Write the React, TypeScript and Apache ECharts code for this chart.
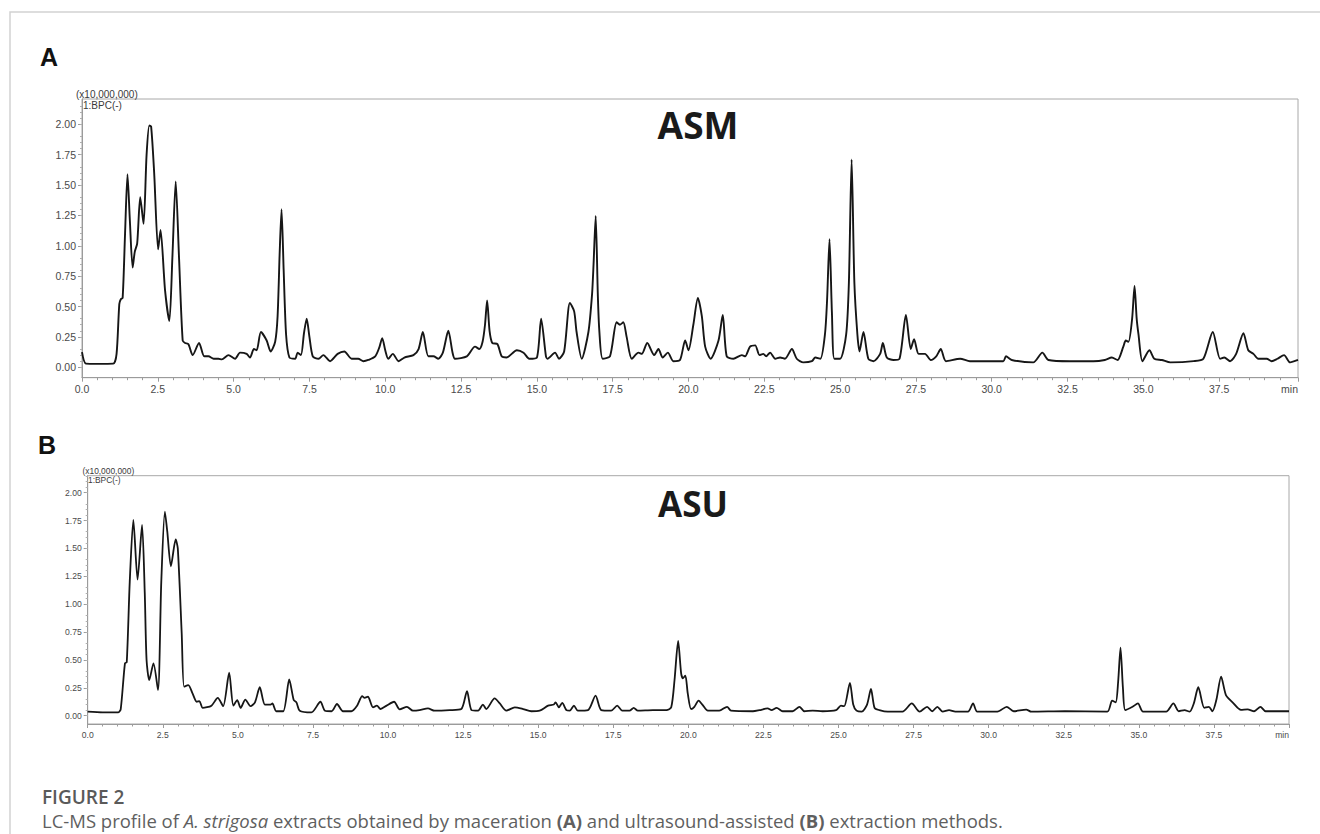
import React, { useEffect, useRef } from "react";
import * as echarts from "echarts";

// ---- tick labels ----
const xMajorTicks = [0, 2.5, 5, 7.5, 10, 12.5, 15, 17.5, 20, 22.5, 25, 27.5, 30, 32.5, 35, 37.5];
const yMajorTicks = [0, 0.25, 0.5, 0.75, 1, 1.25, 1.5, 1.75, 2];
const panelTitles = ["ASM", "ASU"];
const panelLetters = ["A", "B"];

// ---- ASM (maceration) base peak chromatogram: [time (min), intensity (x10,000,000)] ----
const asmProfile: [number, number][] = [
  [0, 0.125], [0.13, 0.03], [0.5, 0.028], [1.03, 0.03], [1.14, 0.11], [1.23, 0.52], [1.28, 0.56], [1.34, 0.57],
  [1.42, 1.1], [1.5, 1.59], [1.58, 1.2], [1.67, 0.82], [1.74, 0.95], [1.82, 1.02], [1.92, 1.4], [2.03, 1.18],
  [2.13, 1.75], [2.22, 1.99], [2.28, 1.98], [2.38, 1.6], [2.51, 0.97], [2.59, 1.13], [2.74, 0.63], [2.88, 0.38],
  [2.98, 0.9], [3.09, 1.53], [3.2, 0.9], [3.32, 0.22], [3.4, 0.2], [3.51, 0.19], [3.65, 0.1], [3.86, 0.2],
  [4.03, 0.09], [4.17, 0.09], [4.34, 0.07], [4.5, 0.07], [4.61, 0.065], [4.83, 0.1], [5.05, 0.07], [5.21, 0.12],
  [5.43, 0.11], [5.54, 0.08], [5.67, 0.15], [5.76, 0.14], [5.9, 0.29], [6.09, 0.22], [6.22, 0.13], [6.37, 0.21],
  [6.45, 0.42], [6.52, 0.95], [6.58, 1.3], [6.65, 0.8], [6.73, 0.27], [6.84, 0.08], [7.03, 0.07], [7.11, 0.12],
  [7.22, 0.1], [7.32, 0.28], [7.41, 0.4], [7.5, 0.25], [7.61, 0.09], [7.8, 0.07], [7.96, 0.1], [8.18, 0.05],
  [8.43, 0.11], [8.65, 0.13], [8.89, 0.07], [9.11, 0.07], [9.28, 0.05], [9.44, 0.06], [9.67, 0.09], [9.8, 0.16],
  [9.9, 0.24], [10.0, 0.14], [10.1, 0.07], [10.25, 0.11], [10.44, 0.05], [10.63, 0.08], [10.93, 0.1], [11.1, 0.15],
  [11.24, 0.29], [11.42, 0.09], [11.59, 0.09], [11.75, 0.07], [11.9, 0.12], [12.08, 0.3], [12.22, 0.12], [12.3, 0.07],
  [12.69, 0.09], [12.96, 0.17], [13.1, 0.15], [13.21, 0.21], [13.29, 0.35], [13.36, 0.55], [13.44, 0.3], [13.53, 0.2],
  [13.7, 0.19], [13.84, 0.09], [14.0, 0.08], [14.34, 0.14], [14.56, 0.12], [14.75, 0.07], [15.0, 0.08], [15.14, 0.4],
  [15.3, 0.09], [15.35, 0.07], [15.6, 0.12], [15.73, 0.07], [15.9, 0.13], [16.09, 0.53], [16.23, 0.46], [16.31, 0.29],
  [16.48, 0.07], [16.7, 0.29], [16.82, 0.6], [16.87, 0.85], [16.94, 1.245], [17.01, 0.6], [17.06, 0.3], [17.17, 0.07],
  [17.41, 0.09], [17.63, 0.37], [17.74, 0.35], [17.85, 0.37], [17.96, 0.25], [18.13, 0.07], [18.35, 0.12], [18.46, 0.11],
  [18.64, 0.2], [18.87, 0.1], [19.01, 0.15], [19.15, 0.08], [19.32, 0.12], [19.5, 0.05], [19.72, 0.06], [19.89, 0.22],
  [20.0, 0.14], [20.16, 0.35], [20.31, 0.57], [20.44, 0.42], [20.55, 0.17], [20.73, 0.07], [20.99, 0.22], [21.13, 0.43],
  [21.26, 0.09], [21.48, 0.07], [21.76, 0.1], [21.87, 0.09], [22.03, 0.17], [22.2, 0.18], [22.34, 0.1], [22.47, 0.11],
  [22.56, 0.09], [22.69, 0.12], [22.86, 0.07], [23.02, 0.08], [23.18, 0.07], [23.41, 0.15], [23.57, 0.07], [23.79, 0.04],
  [24.07, 0.05], [24.18, 0.08], [24.35, 0.07], [24.5, 0.27], [24.57, 0.55], [24.65, 1.055], [24.73, 0.45], [24.81, 0.07],
  [25.0, 0.07], [25.2, 0.27], [25.29, 0.7], [25.38, 1.71], [25.47, 0.7], [25.57, 0.27], [25.64, 0.13], [25.77, 0.29],
  [25.93, 0.07], [26.1, 0.05], [26.32, 0.11], [26.41, 0.2], [26.54, 0.08], [26.76, 0.06], [26.96, 0.07], [27.17, 0.43],
  [27.33, 0.15], [27.44, 0.23], [27.59, 0.11], [27.8, 0.11], [27.99, 0.06], [28.17, 0.09], [28.32, 0.15], [28.49, 0.05],
  [28.96, 0.07], [29.28, 0.05], [30.38, 0.05], [30.47, 0.09], [30.66, 0.06], [31.37, 0.04], [31.67, 0.12], [31.87, 0.06],
  [32.58, 0.05], [33.35, 0.05], [33.73, 0.06], [33.96, 0.08], [34.15, 0.06], [34.34, 0.17], [34.42, 0.22], [34.51, 0.21],
  [34.63, 0.4], [34.71, 0.67], [34.78, 0.4], [34.84, 0.27], [34.97, 0.05], [35.2, 0.14], [35.36, 0.07], [35.61, 0.06],
  [35.89, 0.04], [36.66, 0.05], [36.98, 0.07], [37.29, 0.29], [37.53, 0.07], [37.67, 0.08], [37.86, 0.05], [38.06, 0.11],
  [38.3, 0.28], [38.46, 0.14], [38.63, 0.11], [38.79, 0.07], [39.07, 0.07], [39.23, 0.05], [39.42, 0.07], [39.64, 0.1],
  [39.84, 0.04], [40.1, 0.06],
];

// ---- ASU (ultrasound-assisted) base peak chromatogram ----
const asuProfile: [number, number][] = [
  [0, 0.036], [0.5, 0.03], [1.02, 0.03], [1.1, 0.06], [1.24, 0.47], [1.3, 0.48], [1.4, 1.2], [1.52, 1.755],
  [1.66, 1.22], [1.81, 1.71], [1.9, 1.1], [1.96, 0.5], [2.05, 0.32], [2.19, 0.47], [2.34, 0.23], [2.45, 1.2],
  [2.57, 1.83], [2.65, 1.65], [2.77, 1.34], [2.93, 1.58], [3.0, 1.5], [3.13, 0.74], [3.21, 0.26], [3.35, 0.275],
  [3.49, 0.2], [3.63, 0.125], [3.72, 0.13], [3.83, 0.07], [4.12, 0.09], [4.33, 0.16], [4.51, 0.085], [4.71, 0.385],
  [4.85, 0.09], [4.98, 0.14], [5.09, 0.07], [5.25, 0.145], [5.42, 0.085], [5.57, 0.12], [5.73, 0.255], [5.9, 0.1],
  [6.09, 0.1], [6.15, 0.11], [6.28, 0.04], [6.51, 0.04], [6.71, 0.325], [6.86, 0.14], [6.95, 0.12], [7.06, 0.045],
  [7.45, 0.03], [7.75, 0.125], [7.9, 0.045], [8.12, 0.04], [8.3, 0.105], [8.5, 0.04], [8.78, 0.04], [8.97, 0.09],
  [9.14, 0.175], [9.22, 0.16], [9.33, 0.17], [9.5, 0.075], [9.63, 0.09], [9.75, 0.06], [9.95, 0.09], [10.2, 0.125],
  [10.39, 0.057], [10.63, 0.08], [10.83, 0.045], [11.05, 0.05], [11.33, 0.065], [11.55, 0.045], [12.05, 0.05], [12.44, 0.06],
  [12.63, 0.22], [12.78, 0.05], [13.0, 0.045], [13.16, 0.1], [13.27, 0.06], [13.55, 0.155], [13.72, 0.11], [13.94, 0.045],
  [14.22, 0.075], [14.5, 0.06], [14.77, 0.04], [15.05, 0.045], [15.33, 0.09], [15.52, 0.1], [15.58, 0.12], [15.69, 0.075],
  [15.8, 0.115], [15.94, 0.05], [16.05, 0.045], [16.19, 0.09], [16.32, 0.045], [16.66, 0.05], [16.91, 0.18], [17.1, 0.05],
  [17.43, 0.045], [17.63, 0.09], [17.8, 0.045], [18.04, 0.045], [18.18, 0.07], [18.32, 0.045], [18.82, 0.05], [19.27, 0.05],
  [19.43, 0.075], [19.54, 0.32], [19.66, 0.67], [19.76, 0.38], [19.82, 0.335], [19.9, 0.36], [19.98, 0.2], [20.09, 0.06],
  [20.2, 0.08], [20.34, 0.135], [20.48, 0.095], [20.65, 0.045], [21.03, 0.045], [21.29, 0.08], [21.42, 0.045], [22.15, 0.04],
  [22.37, 0.05], [22.64, 0.065], [22.77, 0.05], [22.94, 0.07], [23.14, 0.04], [23.47, 0.04], [23.7, 0.08], [23.86, 0.04],
  [24.14, 0.045], [24.47, 0.04], [24.92, 0.05], [25.08, 0.09], [25.19, 0.085], [25.38, 0.295], [25.49, 0.1], [25.6, 0.045],
  [25.77, 0.036], [25.95, 0.1], [26.08, 0.24], [26.2, 0.07], [26.36, 0.05], [26.64, 0.036], [27.13, 0.036], [27.44, 0.11],
  [27.7, 0.036], [27.95, 0.08], [28.12, 0.04], [28.29, 0.08], [28.47, 0.036], [28.68, 0.05], [28.89, 0.036], [29.31, 0.036],
  [29.48, 0.11], [29.62, 0.036], [30.29, 0.036], [30.6, 0.08], [30.83, 0.04], [31.25, 0.055], [31.42, 0.036], [32.54, 0.04],
  [33.95, 0.036], [34.11, 0.135], [34.23, 0.12], [34.31, 0.3], [34.39, 0.61], [34.47, 0.25], [34.55, 0.05], [34.79, 0.08],
  [34.97, 0.11], [35.14, 0.036], [35.91, 0.036], [36.15, 0.11], [36.33, 0.04], [36.52, 0.05], [36.69, 0.036], [36.83, 0.11],
  [36.98, 0.255], [37.18, 0.07], [37.33, 0.08], [37.45, 0.04], [37.58, 0.14], [37.74, 0.35], [37.9, 0.185], [38.12, 0.12],
  [38.4, 0.052], [38.62, 0.057], [38.84, 0.04], [39.05, 0.08], [39.22, 0.04], [40.0, 0.04],
];

const profiles = [asmProfile, asuProfile];

type Panel = {
  left: number; top: number; width: number; height: number;
  xMax: number; yMin: number; yMax: number;
  labelSize: number; noteSize: number; lineWidth: number;
};

const panels: Panel[] = [
  { left: 82, top: 99, width: 1216, height: 278.7, xMax: 40.1, yMin: -0.086, yMax: 2.208, labelSize: 10.5, noteSize: 10, lineWidth: 1.9 },
  { left: 87.7, top: 475.7, width: 1201.3, height: 248.3, xMax: 40, yMin: -0.0744, yMax: 2.152, labelSize: 8.6, noteSize: 8.4, lineWidth: 1.8 },
];

function steps(from: number, to: number, step: number, skipEvery: number): number[] {
  const out: number[] = [];
  const n = Math.round((to - from) / step);
  for (let i = 0; i <= n; i++) {
    if (i % skipEvery !== 0) out.push(+(from + i * step).toFixed(4));
  }
  return out;
}

const AXIS_GREY = "#9b9b9b";
const LABEL_GREY = "#4a4a4a";
const TICK_FONT = '"Liberation Sans", Arial, sans-serif';

function buildOption() {
  const grids: any[] = [];
  const xAxes: any[] = [];
  const yAxes: any[] = [];
  const series: any[] = [];

  panels.forEach((p, i) => {
    grids.push({
      left: p.left, top: p.top, width: p.width, height: p.height,
      show: true, borderColor: "#a8a8a8", borderWidth: 1, backgroundColor: "transparent", containLabel: false,
    });
    const xLabelVals = [...xMajorTicks, p.xMax];
    xAxes.push({
      gridIndex: i, type: "value", min: 0, max: p.xMax, position: "bottom",
      axisLine: { show: true, onZero: false, lineStyle: { color: AXIS_GREY, width: 1 } },
      axisTick: { show: true, customValues: xLabelVals, length: 4, lineStyle: { color: AXIS_GREY } },
      axisLabel: {
        show: true, customValues: xLabelVals, margin: 6, fontSize: p.labelSize, color: LABEL_GREY, fontFamily: TICK_FONT,
        alignMaxLabel: "right",
        formatter: (v: number) => (v > 39 ? "min" : v.toFixed(1)),
      },
      splitLine: { show: false },
    });
    xAxes.push({
      gridIndex: i, type: "value", min: 0, max: p.xMax, position: "bottom",
      axisLine: { show: false, onZero: false },
      axisTick: { show: true, customValues: steps(0, 39.5, 0.5, 5), length: 2.5, lineStyle: { color: AXIS_GREY } },
      axisLabel: { show: false },
      splitLine: { show: false },
    });
    yAxes.push({
      gridIndex: i, type: "value", min: p.yMin, max: p.yMax, position: "left",
      axisLine: { show: true, onZero: false, lineStyle: { color: AXIS_GREY, width: 1 } },
      axisTick: { show: true, customValues: yMajorTicks, length: 4, lineStyle: { color: AXIS_GREY } },
      axisLabel: {
        show: true, customValues: yMajorTicks, margin: 6, fontSize: p.labelSize, color: LABEL_GREY, fontFamily: TICK_FONT,
        formatter: (v: number) => v.toFixed(2),
      },
      splitLine: { show: false },
    });
    yAxes.push({
      gridIndex: i, type: "value", min: p.yMin, max: p.yMax, position: "left",
      axisLine: { show: false, onZero: false },
      axisTick: { show: true, customValues: steps(-0.05, 2.15, 0.05, 5).filter((v) => v > p.yMin && v < p.yMax), length: 2, lineStyle: { color: "#b0b0b0" } },
      axisLabel: { show: false },
      splitLine: { show: false },
    });
    series.push({
      type: "line", xAxisIndex: i * 2, yAxisIndex: i * 2, data: profiles[i],
      showSymbol: false, smooth: 0.25, clip: true,
      lineStyle: { color: "#161616", width: p.lineWidth },
    });
  });

  const txt = (text: string, x: number, y: number, font: string, fill: string, align = "left") => ({
    type: "text", x, y, silent: true,
    style: { text, font, fill, textAlign: align, textVerticalAlign: "middle" },
  });

  const graphic: any[] = [
    { type: "rect", shape: { x: 10, y: 12, width: 1400, height: 900 }, style: { fill: "none", stroke: "#d2d2d2", lineWidth: 1.5 }, silent: true },
    txt(panelLetters[0], 40, 57, 'bold 25px "Liberation Sans", Arial, sans-serif', "#111"),
    txt(panelLetters[1], 38, 445, 'bold 25px "Liberation Sans", Arial, sans-serif', "#111"),
    txt(panelTitles[0], 698, 124, '700 37px "Open Sans", sans-serif', "#1a1a1a", "center"),
    txt(panelTitles[1], 693, 503, '700 35px "Open Sans", sans-serif', "#1a1a1a", "center"),
    txt("(x10,000,000)", 76, 94, `${panels[0].noteSize}px "Liberation Sans", Arial, sans-serif`, "#3a3a3a"),
    txt("1:BPC(-)", 83, 105, `${panels[0].noteSize}px "Liberation Sans", Arial, sans-serif`, "#3a3a3a"),
    txt("(x10,000,000)", 82.5, 471, `${panels[1].noteSize}px "Liberation Sans", Arial, sans-serif`, "#3a3a3a"),
    txt("1:BPC(-)", 88, 480, `${panels[1].noteSize}px "Liberation Sans", Arial, sans-serif`, "#3a3a3a"),
    txt("FIGURE 2", 42, 797, '600 19px "Open Sans", sans-serif', "#5a5a5a"),
    {
      type: "text", x: 42, y: 820, silent: true,
      style: {
        text: "{n|LC-MS profile of }{i|A. strigosa}{n| extracts obtained by maceration }{b|(A)}{n| and ultrasound-assisted }{b|(B)}{n| extraction methods.}",
        textVerticalAlign: "middle",
        rich: {
          n: { font: '400 18.5px "Open Sans", sans-serif', fill: "#5f5f5f" },
          i: { font: 'italic 400 18.5px "Open Sans", sans-serif', fill: "#5f5f5f" },
          b: { font: '700 18.5px "Open Sans", sans-serif', fill: "#5f5f5f" },
        },
      },
    },
  ];

  return {
    animation: false,
    backgroundColor: "#ffffff",
    grid: grids,
    xAxis: xAxes,
    yAxis: yAxes,
    series,
    graphic,
  };
}

export default function App() {
  const ref = useRef<HTMLDivElement>(null);
  useEffect(() => {
    document.body.style.margin = "0";
    if (!ref.current) return;
    const chart = echarts.init(ref.current, undefined, { renderer: "svg" });
    chart.setOption(buildOption() as any);
    return () => chart.dispose();
  }, []);
  return <div ref={ref} style={{ width: 1320, height: 834 }} />;
}
